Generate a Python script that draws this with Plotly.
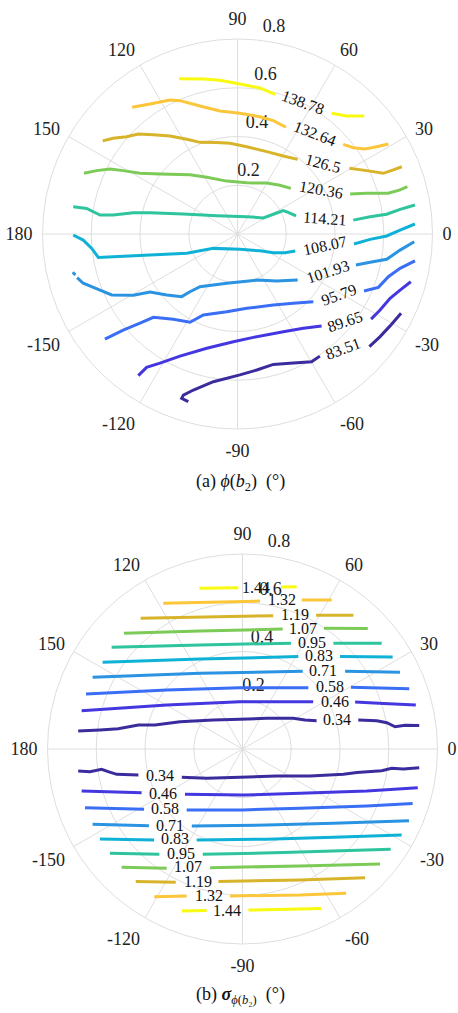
import math
import plotly.graph_objects as go

# ---------------------------------------------------------------- data
# (a) phi(b2) contour levels (deg) and their iso-lines, in the x/y plane of the disk
PHI_LEVELS = [83.51, 89.65, 95.79, 101.93, 108.07, 114.21, 120.36, 126.5, 132.64, 138.78]

PHI_X = [
    [-0.202, -0.229, -0.222, -0.181, -0.099, 0.010, 0.079, 0.147, 0.215, 0.304, 0.338, None, 0.541, 0.585, 0.626, 0.671],
    [-0.407, -0.373, -0.318, -0.236, -0.126, -0.017, 0.065, 0.188, 0.270, 0.345, None, 0.548, 0.585, 0.626, 0.667, 0.711],
    [-0.544, -0.469, -0.400, -0.345, -0.263, -0.195, -0.140, -0.044, 0.038, 0.147, 0.229, 0.311, None, 0.519, 0.578, 0.619, 0.667, 0.728],
    [-0.676, -0.665, None, -0.658, -0.633, -0.564, -0.516, -0.427, -0.359, -0.290, -0.229, -0.195, -0.154, -0.044, 0.079, 0.161, 0.247, None, 0.486, 0.544, 0.612, 0.667, 0.725],
    [-0.674, -0.633, -0.598, -0.571, -0.510, -0.359, -0.208, -0.099, 0.010, 0.092, 0.147, 0.195, 0.237, None, 0.478, 0.544, 0.612, 0.667, 0.728],
    [-0.674, -0.619, -0.564, -0.510, -0.427, -0.359, -0.222, -0.085, 0.038, 0.106, 0.147, 0.188, 0.208, 0.240, None, 0.475, 0.544, 0.612, 0.667, 0.728],
    [-0.630, -0.578, -0.523, -0.469, -0.400, -0.318, -0.195, -0.126, -0.044, 0.038, 0.120, 0.174, 0.219, None, 0.462, 0.530, 0.619, 0.667, 0.697],
    [-0.553, -0.510, -0.455, -0.407, -0.345, -0.277, -0.208, -0.154, -0.085, -0.031, 0.038, 0.120, 0.188, 0.247, None, 0.459, 0.530, 0.598, 0.639, 0.674],
    [-0.432, -0.359, -0.277, -0.236, -0.154, -0.072, 0.010, 0.092, 0.147, 0.199, None, 0.434, 0.475, 0.523, 0.571, 0.619],
    [-0.240, -0.140, -0.072, 0.010, 0.092, 0.154, None, 0.386, 0.448, 0.520],
]
PHI_Y = [
    [-0.688, -0.674, -0.661, -0.640, -0.606, -0.578, -0.558, -0.535, -0.530, -0.524, -0.501, None, -0.462, -0.421, -0.377, -0.325],
    [-0.581, -0.547, -0.530, -0.501, -0.469, -0.442, -0.424, -0.401, -0.387, -0.377, None, -0.349, -0.312, -0.264, -0.230, -0.196],
    [-0.431, -0.394, -0.366, -0.342, -0.350, -0.362, -0.332, -0.319, -0.305, -0.291, -0.284, -0.278, None, -0.234, -0.219, -0.175, -0.141, -0.110],
    [-0.157, -0.168, None, -0.179, -0.202, -0.230, -0.250, -0.251, -0.238, -0.250, -0.257, -0.237, -0.216, -0.202, -0.189, -0.193, -0.189, None, -0.127, -0.116, -0.104, -0.066, -0.032],
    [-0.004, -0.025, -0.059, -0.096, -0.093, -0.086, -0.079, -0.059, -0.063, -0.069, -0.077, -0.077, -0.070, None, -0.041, -0.022, -0.008, 0.016, 0.041],
    [0.112, 0.105, 0.078, 0.078, 0.087, 0.087, 0.082, 0.075, 0.071, 0.066, 0.081, 0.096, 0.089, 0.074, None, 0.057, 0.071, 0.081, 0.101, 0.119],
    [0.249, 0.260, 0.267, 0.260, 0.249, 0.246, 0.243, 0.233, 0.217, 0.210, 0.209, 0.200, 0.187, None, 0.164, 0.167, 0.167, 0.181, 0.194],
    [0.382, 0.393, 0.399, 0.410, 0.407, 0.402, 0.389, 0.376, 0.375, 0.372, 0.358, 0.338, 0.320, 0.306, None, 0.270, 0.260, 0.249, 0.263, 0.276],
    [0.520, 0.533, 0.550, 0.547, 0.525, 0.505, 0.495, 0.481, 0.465, 0.438, None, 0.368, 0.354, 0.349, 0.358, 0.369],
    [0.637, 0.636, 0.631, 0.615, 0.599, 0.573, None, 0.495, 0.484, 0.484],
]
PHI_LABEL_X = [0.434, 0.441, 0.418, 0.373, 0.359, 0.355, 0.341, 0.352, 0.318, 0.270]
PHI_LABEL_Y = [-0.469, -0.360, -0.250, -0.155, -0.049, 0.064, 0.181, 0.290, 0.413, 0.539]
PHI_LABEL_ANGLE = [20, 19, 20, 18, 12, -4, -10, -15, -21, -20]

# (b) sigma of phi(b2) contour levels (deg); each level has an upper and a lower branch
SIG_LEVELS = [0.34, 0.46, 0.58, 0.71, 0.83, 0.95, 1.07, 1.19, 1.32, 1.44]

SIG_UPPER_X = [
    [-0.674, -0.585, -0.510, -0.427, -0.359, -0.256, -0.120, -0.010, 0.099, 0.208, 0.256, 0.304, None, 0.475, 0.551, 0.592, 0.626, 0.667, 0.725],
    [-0.660, -0.311, -0.010, 0.290, None, 0.462, 0.578, 0.711],
    [-0.642, -0.311, -0.010, 0.270, None, 0.445, 0.684],
    [-0.615, -0.174, 0.247, None, 0.421, 0.646],
    [-0.574, -0.174, 0.229, None, 0.400, 0.616],
    [-0.537, -0.174, 0.199, None, 0.373, 0.571],
    [-0.486, -0.174, 0.165, None, 0.334, 0.514],
    [-0.418, 0.126, None, 0.302, 0.455],
    [-0.325, 0.072, None, 0.243, 0.366],
    [-0.177, -0.017, None, 0.158, 0.222],
]
SIG_UPPER_Y = [
    [0.074, 0.078, 0.083, 0.098, 0.098, 0.112, 0.119, 0.122, 0.126, 0.126, 0.119, 0.116, None, 0.119, 0.116, 0.108, 0.091, 0.097, 0.096],
    [0.157, 0.181, 0.194, 0.194, None, 0.193, 0.187, 0.181],
    [0.226, 0.242, 0.251, 0.251, None, 0.253, 0.247],
    [0.294, 0.311, 0.319, None, 0.319, 0.315],
    [0.356, 0.369, 0.379, None, 0.379, 0.377],
    [0.417, 0.427, 0.434, None, 0.434, 0.434],
    [0.475, 0.484, 0.492, None, 0.495, 0.494],
    [0.536, 0.547, None, 0.549, 0.549],
    [0.598, 0.607, None, 0.611, 0.611],
    [0.659, 0.662, None, 0.665, 0.666],
]
SIG_LOWER_X = [
    [-0.674, -0.626, -0.578, -0.551, -0.516, -0.427, None, -0.249, -0.147, -0.010, 0.140, 0.277, 0.414, 0.469, 0.571, 0.612, 0.660, 0.725],
    [-0.660, -0.414, None, -0.236, 0.003, 0.236, 0.510, 0.719],
    [-0.646, -0.404, None, -0.229, 0.003, 0.236, 0.510, 0.698],
    [-0.615, -0.384, None, -0.208, 0.099, 0.373, 0.683],
    [-0.585, -0.363, None, -0.188, 0.099, 0.373, 0.653],
    [-0.544, -0.341, None, -0.163, 0.167, 0.608],
    [-0.496, -0.311, None, -0.133, 0.236, 0.564],
    [-0.438, -0.274, None, -0.099, 0.236, 0.503],
    [-0.362, -0.229, None, -0.051, 0.236, 0.425],
    [-0.249, -0.147, None, 0.024, 0.236, 0.322],
]
SIG_LOWER_Y = [
    [-0.090, -0.093, -0.083, -0.093, -0.104, -0.107, None, -0.116, -0.120, -0.116, -0.111, -0.111, -0.104, -0.096, -0.089, -0.079, -0.082, -0.077],
    [-0.172, -0.179, None, -0.186, -0.189, -0.182, -0.172, -0.159],
    [-0.241, -0.247, None, -0.250, -0.250, -0.243, -0.234, -0.224],
    [-0.309, -0.315, None, -0.316, -0.312, -0.305, -0.294],
    [-0.369, -0.373, None, -0.373, -0.370, -0.362, -0.353],
    [-0.428, -0.432, None, -0.432, -0.425, -0.411],
    [-0.485, -0.489, None, -0.487, -0.480, -0.472],
    [-0.544, -0.547, None, -0.544, -0.537, -0.528],
    [-0.606, -0.603, None, -0.603, -0.599, -0.592],
    [-0.665, -0.663, None, -0.661, -0.656, -0.654],
]
SIG_UPPER_LABEL_X = [0.389, 0.379, 0.359, 0.331, 0.314, 0.284, 0.247, 0.215, 0.161, 0.055]
SIG_UPPER_LABEL_Y = [0.122, 0.194, 0.258, 0.321, 0.383, 0.436, 0.495, 0.550, 0.614, 0.663]
SIG_LOWER_LABEL_X = [-0.338, -0.325, -0.318, -0.297, -0.277, -0.254, -0.222, -0.184, -0.137, -0.065]
SIG_LOWER_LABEL_Y = [-0.107, -0.182, -0.246, -0.312, -0.369, -0.428, -0.483, -0.542, -0.600, -0.661]

# polar axis ticks
ANGLE_TICKS = [0, 30, 60, 90, 120, 150, 180, 210, 240, 270, 300, 330]
ANGLE_TICK_TEXT = ["0", "30", "60", "90", "120", "150", "180", "-150", "-120", "-90", "-60", "-30"]
RADIAL_TICKS = [0.2, 0.4, 0.6, 0.8]
RADIAL_LABEL_ANGLE = 80   # deg, direction along which the ring values are written
RADIAL_LABEL_PAD = 0.06   # radial offset of a ring value beyond its ring
R_MAX = 0.8               # outer ring of the disk
R_FRAME = 0.88            # half-width of the cartesian frame laid over each disk

# parula-like line colours, lowest level first
LEVEL_COLORS = ["#3b2c9e", "#4537e0", "#3a6ef5", "#2a93e2", "#0fb2d6",
                "#2ec49e", "#7ccb58", "#d8b42b", "#fcc63a", "#f8fa10"]

# ---------------------------------------------------------------- layout
W, H = 458, 1013
FONT = "Liberation Serif"
GRID = "#dedede"
DISK_PX = 195.0   # pixel radius of each disk
# pixel centres of the two disks
CENTERS = {"polar": (237.5, 234.0), "polar2": (242.5, 749.0)}


def to_polar(xs, ys):
    r, t = [], []
    for x, y in zip(xs, ys):
        if x is None:
            r.append(None)
            t.append(None)
        else:
            r.append(math.hypot(x, y))
            t.append(math.degrees(math.atan2(y, x)))
    return r, t


def label_text(v):
    return f"{v:g}"


def dom(center, half):
    cx, cy = center
    return [(cx - half) / W, (cx + half) / W], [1 - (cy + half) / H, 1 - (cy - half) / H]


fig = go.Figure()

# ring values, written in the cartesian frame laid over each disk (drawn under the lines)
ang = math.radians(RADIAL_LABEL_ANGLE)
for xa, ya in (("x", "y"), ("x2", "y2")):
    fig.add_trace(go.Scatter(
        x=[(v + RADIAL_LABEL_PAD) * math.cos(ang) for v in RADIAL_TICKS],
        y=[(v + RADIAL_LABEL_PAD) * math.sin(ang) for v in RADIAL_TICKS],
        text=[label_text(v) for v in RADIAL_TICKS], mode="text",
        textfont=dict(family=FONT, size=18, color="#222"),
        cliponaxis=False, hoverinfo="skip", showlegend=False, xaxis=xa, yaxis=ya))

# (a) iso-lines
for lev, xs, ys, col in zip(PHI_LEVELS, PHI_X, PHI_Y, LEVEL_COLORS):
    r, t = to_polar(xs, ys)
    fig.add_trace(go.Scatterpolar(r=r, theta=t, mode="lines", name=label_text(lev),
                                  line=dict(color=col, width=3), showlegend=False,
                                  subplot="polar"))

# (b) iso-lines, both branches
for lev, ux, uy, lx, ly, col in zip(SIG_LEVELS, SIG_UPPER_X, SIG_UPPER_Y,
                                    SIG_LOWER_X, SIG_LOWER_Y, LEVEL_COLORS):
    r, t = to_polar(ux + [None] + lx, uy + [None] + ly)
    fig.add_trace(go.Scatterpolar(r=r, theta=t, mode="lines", name=label_text(lev),
                                  line=dict(color=col, width=3), showlegend=False,
                                  subplot="polar2"))

polar_common = dict(
    bgcolor="rgba(0,0,0,0)",
    radialaxis=dict(range=[0, R_MAX], tickvals=RADIAL_TICKS, showticklabels=False,
                    ticks="", showline=False, gridcolor=GRID, gridwidth=1),
    angularaxis=dict(rotation=0, direction="counterclockwise", tickmode="array",
                     tickvals=ANGLE_TICKS, ticktext=ANGLE_TICK_TEXT,
                     ticks="outside", ticklen=6, tickcolor="rgba(0,0,0,0)",
                     tickfont=dict(family=FONT, size=18, color="#222"),
                     gridcolor=GRID, gridwidth=1, linecolor=GRID, linewidth=1),
)

pdx1, pdy1 = dom(CENTERS["polar"], DISK_PX)
pdx2, pdy2 = dom(CENTERS["polar2"], DISK_PX)
half_frame = DISK_PX * R_FRAME / R_MAX
cdx1, cdy1 = dom(CENTERS["polar"], half_frame)
cdx2, cdy2 = dom(CENTERS["polar2"], half_frame)

axis_off = dict(range=[-R_FRAME, R_FRAME], visible=False, fixedrange=True)

# rotated contour labels
annotations = []
for lev, x, y, a in zip(PHI_LEVELS, PHI_LABEL_X, PHI_LABEL_Y, PHI_LABEL_ANGLE):
    annotations.append(dict(x=x, y=y, xref="x", yref="y", text=label_text(lev),
                            textangle=-a, showarrow=False,
                            font=dict(family=FONT, size=16, color="#111")))
for lev, x, y in zip(SIG_LEVELS, SIG_UPPER_LABEL_X, SIG_UPPER_LABEL_Y):
    annotations.append(dict(x=x, y=y, xref="x2", yref="y2", text=label_text(lev),
                            showarrow=False, font=dict(family=FONT, size=16, color="#111")))
for lev, x, y in zip(SIG_LEVELS, SIG_LOWER_LABEL_X, SIG_LOWER_LABEL_Y):
    annotations.append(dict(x=x, y=y, xref="x2", yref="y2", text=label_text(lev),
                            showarrow=False, font=dict(family=FONT, size=16, color="#111")))

# sub-captions
annotations.append(dict(x=240 / W, y=1 - 482 / H, xref="paper", yref="paper",
                        text="(a) <i>ϕ</i>(<i>b</i><sub>2</sub>)  (°)", showarrow=False,
                        font=dict(family=FONT, size=18, color="#111")))
annotations.append(dict(x=240 / W, y=1 - 1009 / H, xref="paper", yref="paper",
                        text="(b) <b><i>σ</i></b><sub><i>ϕ</i>(<i>b</i>₂)</sub>  (°)",
                        showarrow=False, font=dict(family=FONT, size=18, color="#111")))

fig.update_layout(
    width=W, height=H, margin=dict(l=0, r=0, t=0, b=0),
    paper_bgcolor="white", plot_bgcolor="rgba(0,0,0,0)",
    polar=dict(domain=dict(x=pdx1, y=pdy1), **polar_common),
    polar2=dict(domain=dict(x=pdx2, y=pdy2), **polar_common),
    xaxis=dict(domain=cdx1, anchor="y", **axis_off),
    yaxis=dict(domain=cdy1, anchor="x", **axis_off),
    xaxis2=dict(domain=cdx2, anchor="y2", **axis_off),
    yaxis2=dict(domain=cdy2, anchor="x2", **axis_off),
    annotations=annotations,
    showlegend=False,
)

fig.write_html("out.html")
